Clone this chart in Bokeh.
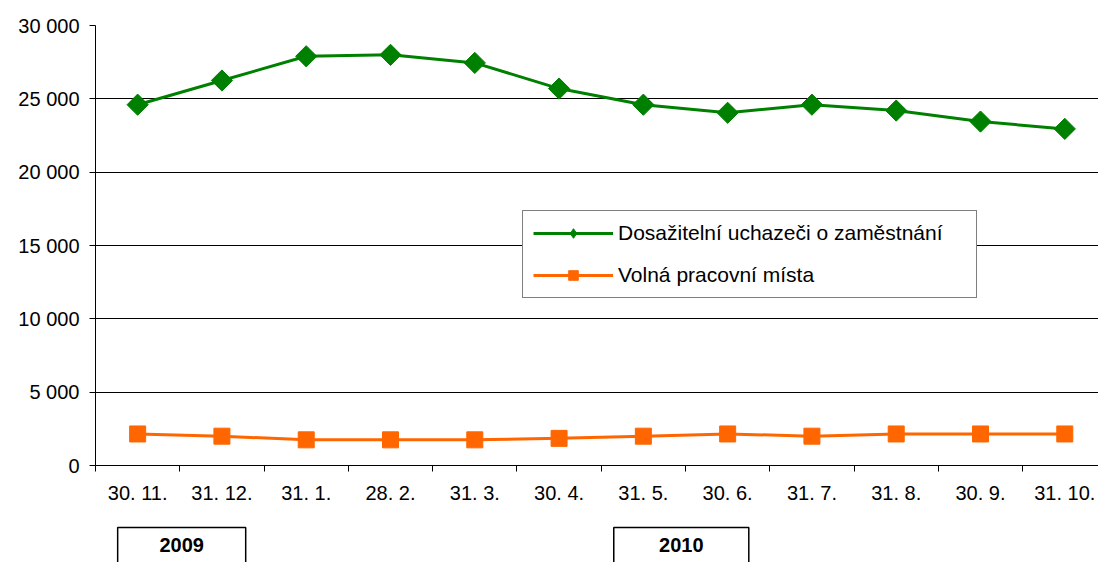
import math
from bokeh.plotting import figure
from bokeh.layouts import column
from bokeh.models import Range1d, FixedTicker, Legend, LegendItem
from bokeh.core.properties import value
from bokeh.embed import file_html
from bokeh.resources import INLINE

dates = ["30. 11.", "31. 12.", "31. 1.", "28. 2.", "31. 3.", "30. 4.",
         "31. 5.", "30. 6.", "31. 7.", "31. 8.", "30. 9.", "31. 10."]
uchazeci = [24600, 26250, 27900, 28000, 27450, 25700,
            24600, 24050, 24600, 24200, 23450, 22950]
mista = [2150, 2000, 1750, 1750, 1750, 1850,
         2000, 2150, 2000, 2150, 2150, 2150]
years = ["2009", "2010"]
y_ticks = [0, 5000, 10000, 15000, 20000, 25000, 30000]
y_labels = ["0", "5 000", "10 000", "15 000", "20 000", "25 000", "30 000"]

FONT = "Liberation Sans"
idx = list(range(len(dates)))
xr = Range1d(-0.5, 11.4)

p = figure(width=1098, height=525, output_backend="svg", toolbar_location=None,
           x_range=xr, y_range=Range1d(0, 30000),
           min_border_left=95, min_border_right=0, min_border_top=25,
           min_border_bottom=60)
p.outline_line_color = None
p.background_fill_color = "white"
p.border_fill_color = "white"
p.xgrid.grid_line_color = None
p.ygrid.grid_line_color = "black"
p.ygrid.grid_line_width = 1

# y axis
p.yaxis.ticker = FixedTicker(ticks=y_ticks)
p.yaxis.major_label_overrides = {t: l for t, l in zip(y_ticks, y_labels)}
p.yaxis.major_tick_out = 6
p.yaxis.major_tick_in = 0
p.yaxis.minor_tick_line_color = None
p.yaxis.axis_line_color = "black"
p.yaxis.major_tick_line_color = "black"
p.yaxis.major_label_text_font = FONT
p.yaxis.major_label_text_font_size = "20px"
p.yaxis.major_label_text_color = "black"
p.yaxis.major_label_standoff = 10

# x axis
p.xaxis.ticker = FixedTicker(ticks=idx, minor_ticks=[i - 0.5 for i in range(len(dates) + 1)])
p.xaxis.major_label_overrides = {i: d for i, d in zip(idx, dates)}
p.xaxis.major_tick_out = 0
p.xaxis.major_tick_in = 0
p.xaxis.minor_tick_out = 6
p.xaxis.minor_tick_in = 0
p.xaxis.minor_tick_line_color = "black"
p.xaxis.axis_line_color = "black"
p.xaxis.major_label_text_font = FONT
p.xaxis.major_label_text_font_size = "20px"
p.xaxis.major_label_text_color = "black"
p.xaxis.major_label_standoff = 10

GREEN = "#008000"
ORANGE = "#FF6600"

l1 = p.line(idx, uchazeci, line_color=GREEN, line_width=3)
s1 = p.scatter(idx, uchazeci, marker="square", angle=math.pi / 4, size=15,
               fill_color=GREEN, line_color=GREEN)
# legend-only diamond glyph (NaN point, never drawn in the plot)
s1_leg = p.scatter([float("nan")], [float("nan")], marker="diamond", size=13,
                   fill_color=GREEN, line_color=GREEN)
l2 = p.line(idx, mista, line_color=ORANGE, line_width=3)
s2 = p.scatter(idx, mista, marker="square", size=16, fill_color=ORANGE, line_color=ORANGE)

legend = Legend(items=[
    LegendItem(label="Dosažitelní uchazeči o zaměstnání", renderers=[l1, s1_leg]),
    LegendItem(label="Volná pracovní místa", renderers=[l2, s2]),
], location=(427, 167))
legend.label_text_font = FONT
legend.label_text_font_size = "21px"
legend.label_text_color = "black"
legend.border_line_color = "black"
legend.border_line_width = 1
legend.padding = 10
legend.margin = 0
legend.spacing = 18
legend.glyph_width = 80
legend.glyph_height = 24
legend.label_height = 24
legend.label_width = 348
legend.label_standoff = 5
legend.background_fill_alpha = 1
p.add_layout(legend, "center")

# strip with year boxes below the chart
q = figure(width=1098, height=37, output_backend="svg", toolbar_location=None,
           x_range=xr, y_range=Range1d(0, 37),
           min_border_left=95, min_border_right=0, min_border_top=0,
           min_border_bottom=0)
q.axis.visible = False
q.grid.grid_line_color = None
q.outline_line_color = None
q.background_fill_color = "white"
q.border_fill_color = "white"

box_left = [-0.237, 5.649]
box_right = [1.282, 7.251]
q.quad(left=box_left, right=box_right, bottom=[-10, -10], top=[35, 35],
       fill_color=None, line_color="black", line_width=1.5)
q.text(x=[(a + b) / 2 for a, b in zip(box_left, box_right)], y=[18, 18], text=years,
       text_font=value(FONT), text_font_size="20px", text_font_style="bold",
       text_align="center", text_baseline="middle", text_color="black")

open("out.html", "w").write(file_html(column(p, q, spacing=0), INLINE))
